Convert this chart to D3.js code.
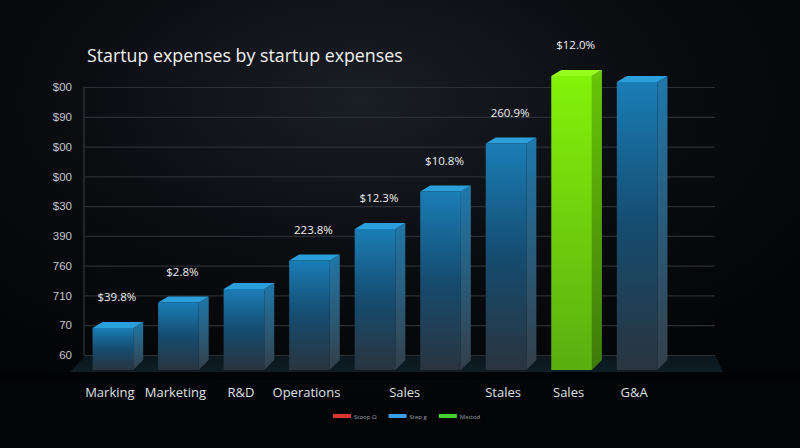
<!DOCTYPE html>
<html>
<head>
<meta charset="utf-8">
<script src="https://cdn.jsdelivr.net/npm/d3@7"></script>
<style>
  html, body { margin: 0; padding: 0; background: #060709; }
  svg { display: block; font-family: "Open Sans", "DejaVu Sans", sans-serif; }
</style>
</head>
<body>
<svg id="chart" width="800" height="448" viewBox="0 0 800 448"></svg>
<script>
// chart data
const titleText = "Startup expenses by startup expenses";
const yTickLabels = ["60", "70", "710", "760", "390", "$30", "$00", "$00", "$90", "$00"]; // bottom -> top
const barValues = [14, 22.5, 27, 36.5, 47, 59.5, 75.5, 98, 96];
const barHighlight = [false, false, false, false, false, false, false, true, false];
const valueLabels = ["$39.8%", "$2.8%", null, "223.8%", "$12.3%", "$10.8%", "260.9%", "$12.0%", null];
const categoryLabels = ["Marking", "Marketing", "R&D", "Operations", "Sales", "Stales", "Sales", "G&A"];
const categorySlots = [0, 1, 2, 3, 4.5, 6, 7, 8]; // which bar slot each label sits under
const legendLabels = ["Stoop Ω", "Step g", "Mettod"];
const legendColors = ["#d9382c", "#3a9fe2", "#45d12b"];

const svg = d3.select("#chart");
const W = 800, H = 448;
const margin = {left: 84, right: 715, top: 87, gridBottom: 355, base: 370};

const defs = svg.append("defs");

// background glow
const bg = defs.append("radialGradient").attr("id", "bg")
    .attr("cx", "45%").attr("cy", "22%").attr("r", "72%");
bg.append("stop").attr("offset", "0%").attr("stop-color", "#1a1f25");
bg.append("stop").attr("offset", "50%").attr("stop-color", "#0a0c10");
bg.append("stop").attr("offset", "100%").attr("stop-color", "#030405");
svg.append("rect").attr("width", W).attr("height", H).attr("fill", "url(#bg)");

// bar gradients
function vGrad(id, stops) {
    const g = defs.append("linearGradient").attr("id", id)
        .attr("x1", 0).attr("y1", 0).attr("x2", 0).attr("y2", 1);
    stops.forEach(s => g.append("stop").attr("offset", s[0]).attr("stop-color", s[1]));
}
vGrad("blueFront", [["0%", "#1a7db6"], ["50%", "#154c70"], ["100%", "#2a343e"]]);
vGrad("blueSide", [["0%", "#1f78ab"], ["100%", "#343f49"]]);
vGrad("greenFront", [["0%", "#84f20a"], ["100%", "#5aae10"]]);
vGrad("greenSide", [["0%", "#68c608"], ["100%", "#3f7a0a"]]);
vGrad("floor", [["0%", "#0b161d"], ["100%", "#0e1d26"]]);

// scales
const x = d3.scaleBand()
    .domain(d3.range(barValues.length))
    .range([86, 664])
    .paddingInner(0.38)
    .paddingOuter(0.1);
const y = d3.scaleLinear().domain([0, 100]).range([margin.base, 70]);
const yTick = d3.scaleLinear().domain([0, yTickLabels.length - 1]).range([margin.gridBottom, margin.top]);
const slotX = d3.scaleLinear()
    .domain([0, barValues.length - 1])
    .range([x(0) + x.bandwidth() / 2, x(barValues.length - 1) + x.bandwidth() / 2]);

// title
svg.append("text")
    .attr("x", 87).attr("y", 62)
    .attr("fill", "#f2f2f2")
    .attr("font-size", 17.8)
    .attr("font-weight", 500)
    .text(titleText);

// floor plane
svg.append("path")
    .attr("d", `M${margin.left - 14},${margin.base + 2} L${margin.left + 2},${margin.gridBottom} L${margin.right},${margin.gridBottom} L${margin.right + 8},${margin.base + 2} Z`)
    .attr("fill", "url(#floor)");
svg.append("rect")
    .attr("x", 0).attr("y", margin.base + 2).attr("width", W).attr("height", 8)
    .attr("fill", "#020304");

// gridlines + y labels
const yAxis = d3.axisLeft(yTick)
    .tickValues(d3.range(yTickLabels.length))
    .tickFormat(i => yTickLabels[i])
    .tickSize(-(margin.right - margin.left))
    .tickPadding(12);
const gy = svg.append("g").attr("transform", `translate(${margin.left},0)`).call(yAxis);
gy.select(".domain").attr("stroke", "#3a3f44").attr("stroke-width", 1)
    .attr("d", `M0,${margin.top}V${margin.gridBottom}`);
gy.selectAll(".tick line").attr("stroke", "#2a2f35").attr("stroke-width", 1.2);
gy.selectAll(".tick text").attr("fill", "#c2c6ca").attr("font-size", 11.5);

// 3d bars
const depthX = 10, depthY = 6;
const bars = svg.append("g").selectAll("g")
    .data(barValues)
    .join("g");

bars.append("path") // side face
    .attr("d", (d, i) => {
        const x1 = x(i) + x.bandwidth(), t = y(d), b = margin.base;
        return `M${x1},${t} L${x1 + depthX},${t - depthY} L${x1 + depthX},${b - depthY - 4} L${x1},${b} Z`;
    })
    .attr("fill", (d, i) => barHighlight[i] ? "url(#greenSide)" : "url(#blueSide)");

bars.append("path") // top face
    .attr("d", (d, i) => {
        const x0 = x(i), x1 = x(i) + x.bandwidth(), t = y(d);
        return `M${x0},${t} L${x0 + depthX},${t - depthY} L${x1 + depthX},${t - depthY} L${x1},${t} Z`;
    })
    .attr("fill", (d, i) => barHighlight[i] ? "#96ff1e" : "#2a9fdc");

bars.append("rect") // front face
    .attr("x", (d, i) => x(i))
    .attr("y", d => y(d))
    .attr("width", x.bandwidth())
    .attr("height", d => margin.base - y(d))
    .attr("fill", (d, i) => barHighlight[i] ? "url(#greenFront)" : "url(#blueFront)");

// value labels
svg.append("g").selectAll("text")
    .data(barValues.map((v, i) => ({v, i, label: valueLabels[i]})).filter(d => d.label))
    .join("text")
    .attr("x", d => x(d.i) + x.bandwidth() / 2 + 4)
    .attr("y", d => y(d.v) - 27)
    .attr("text-anchor", "middle")
    .attr("fill", "#eef0f2")
    .attr("font-size", 11.5)
    .text(d => d.label);

// category labels
svg.append("g").selectAll("text")
    .data(categoryLabels)
    .join("text")
    .attr("x", (d, i) => slotX(categorySlots[i]) - 3)
    .attr("y", 397)
    .attr("text-anchor", "middle")
    .attr("fill", "#dfe2e5")
    .attr("font-size", 13)
    .text(d => d);

// legend
const legend = svg.append("g").attr("transform", "translate(333,416)");
let lx = 0;
legendLabels.forEach((lab, i) => {
    legend.append("rect")
        .attr("x", lx).attr("y", -2).attr("width", 18).attr("height", 4)
        .attr("fill", legendColors[i]);
    const t = legend.append("text")
        .attr("x", lx + 21).attr("y", 2.5)
        .attr("fill", "#9aa0a6")
        .attr("font-size", 6)
        .text(lab);
    lx += 21 + t.node().getComputedTextLength() + 12;
});
</script>
</body>
</html>
